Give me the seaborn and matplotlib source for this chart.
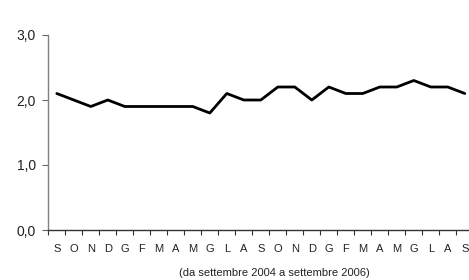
import seaborn as sns
import matplotlib.pyplot as plt
import pandas as pd
import numpy as np

# mesi da settembre 2004 a settembre 2006
mesi = ["S", "O", "N", "D", "G", "F", "M", "A", "M", "G", "L", "A",
        "S", "O", "N", "D", "G", "F", "M", "A", "M", "G", "L", "A", "S"]
valori = [2.1, 2.0, 1.9, 2.0, 1.9, 1.9, 1.9, 1.9, 1.9, 1.8, 2.1, 2.0,
          2.0, 2.2, 2.2, 2.0, 2.2, 2.1, 2.1, 2.2, 2.2, 2.3, 2.2, 2.2, 2.1]
yticks = [0.0, 1.0, 2.0, 3.0]

df = pd.DataFrame({"pos": range(len(mesi)), "valore": valori})

sns.set_theme(style="white")
plt.rcParams['font.family'] = ['Liberation Sans', 'DejaVu Sans']

fig = plt.figure(figsize=(4.69, 2.8), dpi=100)
ax = fig.add_axes([48.3 / 469, 50 / 280, 425 / 469, 195 / 280])

sns.lineplot(x="pos", y="valore", data=df, color="black", linewidth=2, ax=ax)

ax.set_xlim(-0.5, len(mesi) - 0.5)
ax.set_ylim(0, 3)
ax.set_yticks(yticks)
ax.set_yticklabels([f"{v:.1f}".replace(".", ",") for v in yticks], fontsize=10, color="#222222")

ax.set_xticks(range(len(mesi)))
ax.set_xticklabels(mesi, fontsize=8, color="#222222")
ax.set_xticks(np.arange(-0.5, len(mesi) - 0.5), minor=True)
ax.tick_params(axis="x", which="major", length=0, pad=10)
ax.tick_params(axis="x", which="minor", bottom=True, length=3.5, width=0.8, color="#333333")
ax.tick_params(axis="y", left=True, length=4.5, width=0.8, color="#666666", pad=4.5)

for s in ["top", "right"]:
    ax.spines[s].set_visible(False)
ax.spines["left"].set_color("#808080")
ax.spines["left"].set_linewidth(1)
ax.spines["bottom"].set_color("#333333")
ax.spines["bottom"].set_linewidth(1)

ax.set_ylabel("")
ax.set_xlabel("(da settembre 2004 a settembre 2006)", fontsize=8, color="#222222", va="center")
ax.xaxis.set_label_coords(0.532, -0.221)

fig.savefig("out.png", dpi=100)
